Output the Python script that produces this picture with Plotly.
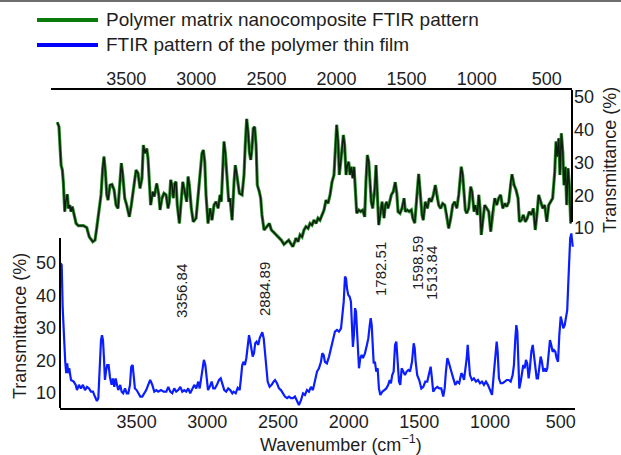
import plotly.graph_objects as go

# ---------------- data ----------------
# Top panel: polymer matrix nanocomposite (read against top axis)
nano_wavenumber = [3992, 3980, 3973, 3965, 3956, 3949, 3939, 3932, 3920, 3913, 3903, 3894, 3885, 3873, 3858, 3842,
                   3806, 3782, 3764, 3739, 3723, 3711, 3692, 3680, 3668, 3659, 3649, 3639, 3630, 3616, 3602, 3587,
                   3573, 3559, 3545, 3535, 3525, 3511, 3497, 3478, 3464, 3450, 3430, 3416, 3402, 3388, 3378, 3366,
                   3354, 3345, 3336, 3326, 3311, 3300, 3283, 3268, 3259, 3245, 3231, 3216, 3202, 3193, 3183, 3174,
                   3164, 3154, 3145, 3136, 3121, 3107, 3097, 3083, 3069, 3059, 3050, 3036, 3022, 3002, 2988, 2974,
                   2960, 2950, 2940, 2931, 2917, 2902, 2888, 2874, 2860, 2845, 2831, 2822, 2812, 2803, 2793, 2783,
                   2769, 2760, 2745, 2731, 2722, 2708, 2693, 2674, 2660, 2651, 2641, 2631, 2622, 2612, 2603, 2594,
                   2584, 2574, 2565, 2551, 2541, 2532, 2517, 2498, 2479, 2465, 2441, 2412, 2394, 2375, 2355, 2341,
                   2327, 2312, 2298, 2289, 2275, 2260, 2246, 2232, 2218, 2203, 2189, 2175, 2161, 2146, 2132, 2118,
                   2103, 2089, 2075, 2061, 2046, 2032, 2018, 2009, 1999, 1989, 1980, 1970, 1961, 1951, 1942, 1932,
                   1923, 1913, 1904, 1894, 1884, 1875, 1866, 1856, 1842, 1827, 1813, 1799, 1790, 1780, 1770, 1761,
                   1752, 1742, 1727, 1718, 1709, 1699, 1685, 1675, 1661, 1652, 1642, 1633, 1623, 1609, 1595, 1581,
                   1570, 1561, 1547, 1533, 1518, 1509, 1495, 1481, 1466, 1456, 1442, 1433, 1424, 1414, 1409, 1399,
                   1390, 1381, 1367, 1352, 1338, 1324, 1309, 1295, 1286, 1271, 1257, 1243, 1228, 1214, 1200, 1185,
                   1171, 1157, 1142, 1128, 1119, 1110, 1100, 1090, 1081, 1071, 1057, 1043, 1033, 1019, 1010, 995,
                   985, 976, 967, 957, 943, 928, 914, 900, 886, 871, 857, 843, 829, 814, 800, 786,
                   771, 757, 748, 733, 719, 705, 695, 681, 667, 653, 639, 625, 610, 596, 582, 568,
                   558, 543, 529, 515, 500, 486, 472, 458, 443, 434, 425, 415, 406, 396, 386, 377,
                   367, 358, 348, 339, 329]
nano_transmittance = [42.3, 40.9, 35.3, 29.2, 27.7, 24.1, 15.0, 18.0, 20.3, 16.0, 17.0, 15.0, 16.5, 14.0, 11.4, 10.7,
                      10.7, 10.1, 7.3, 5.8, 6.3, 9.9, 17.0, 20.1, 28.2, 31.8, 27.2, 20.1, 18.5, 23.1, 23.3, 21.6,
                      17.0, 16.0, 24.1, 29.8, 26.2, 19.1, 17.0, 13.4, 17.0, 22.1, 27.7, 26.7, 22.1, 25.2, 35.3, 32.8,
                      34.3, 31.3, 23.1, 17.0, 21.1, 19.6, 23.6, 20.1, 15.5, 19.1, 20.6, 20.1, 16.0, 18.0, 24.7, 23.1,
                      19.1, 23.6, 24.1, 17.0, 11.4, 20.1, 24.1, 21.1, 18.0, 25.7, 23.1, 16.0, 11.9, 13.0, 20.1, 27.2,
                      32.8, 33.8, 30.2, 20.1, 11.4, 16.0, 12.4, 17.0, 18.0, 16.0, 20.1, 18.0, 26.2, 36.4, 32.8, 25.2,
                      18.0, 19.1, 12.4, 24.1, 29.2, 25.2, 20.6, 20.1, 26.2, 35.3, 43.3, 39.4, 33.3, 30.8, 34.3, 40.4,
                      40.9, 35.3, 23.1, 21.1, 19.1, 14.0, 9.4, 10.4, 11.4, 9.4, 8.4, 7.3, 6.3, 5.0, 5.8, 6.3,
                      5.3, 4.3, 5.8, 6.9, 5.8, 7.9, 7.3, 9.4, 10.4, 9.9, 11.4, 10.9, 12.4, 11.4, 13.0, 12.4,
                      14.0, 15.5, 18.5, 17.5, 20.1, 24.1, 26.2, 32.3, 41.5, 36.4, 26.2, 30.2, 34.3, 38.4, 35.3, 26.2,
                      29.2, 30.2, 26.2, 28.7, 25.2, 28.7, 22.1, 14.5, 15.5, 15.0, 15.5, 13.4, 24.1, 32.3, 30.2, 24.1,
                      18.0, 16.0, 22.1, 29.2, 20.1, 10.9, 15.0, 18.0, 13.0, 17.0, 18.0, 16.0, 17.5, 20.1, 21.1, 24.0,
                      20.6, 15.0, 14.5, 16.0, 19.1, 15.0, 15.5, 15.0, 15.5, 13.0, 11.5, 17.0, 22.1, 26.5, 24.1, 18.0,
                      14.0, 12.4, 18.0, 16.0, 19.1, 18.0, 20.1, 23.1, 20.1, 17.0, 16.0, 17.5, 17.0, 14.0, 9.9, 13.0,
                      17.0, 18.0, 16.0, 20.1, 26.2, 28.7, 26.2, 20.1, 15.5, 14.5, 16.0, 22.6, 21.1, 15.0, 17.0, 14.0,
                      20.1, 16.0, 7.9, 11.9, 17.0, 16.0, 15.0, 8.9, 15.0, 19.1, 17.0, 19.1, 20.1, 16.0, 17.5, 16.5,
                      18.0, 24.1, 26.4, 23.1, 21.6, 19.1, 11.9, 12.4, 14.0, 11.9, 13.0, 15.0, 14.0, 16.0, 9.4, 15.0,
                      20.1, 18.0, 16.0, 17.0, 11.9, 17.0, 18.0, 19.1, 27.2, 36.4, 31.8, 37.4, 26.2, 38.9, 33.3, 23.1,
                      28.7, 17.0, 28.2, 23.1, 11.4]

# Bottom panel: polymer thin film
film_wavenumber = [4037, 4030, 4023, 4014, 4005, 3998, 3991, 3984, 3977, 3964, 3945, 3931, 3922, 3908, 3894, 3880,
                   3865, 3851, 3837, 3823, 3809, 3795, 3781, 3771, 3761, 3752, 3745, 3738, 3731, 3724, 3717, 3708,
                   3698, 3689, 3677, 3667, 3658, 3648, 3639, 3630, 3616, 3606, 3595, 3582, 3570, 3559, 3547, 3538,
                   3528, 3521, 3512, 3500, 3488, 3474, 3460, 3446, 3432, 3418, 3404, 3389, 3375, 3361, 3347, 3328,
                   3309, 3290, 3276, 3262, 3248, 3234, 3220, 3206, 3191, 3177, 3163, 3149, 3135, 3121, 3106, 3092,
                   3078, 3064, 3054, 3045, 3033, 3024, 3014, 3004, 2995, 2983, 2969, 2958, 2946, 2932, 2917, 2905,
                   2894, 2880, 2866, 2852, 2838, 2823, 2814, 2799, 2785, 2771, 2762, 2753, 2743, 2734, 2724, 2714,
                   2705, 2698, 2689, 2679, 2670, 2661, 2651, 2639, 2630, 2620, 2611, 2601, 2592, 2583, 2573, 2559,
                   2545, 2531, 2521, 2507, 2493, 2479, 2465, 2451, 2436, 2422, 2408, 2394, 2380, 2366, 2352, 2337,
                   2323, 2309, 2295, 2281, 2267, 2253, 2238, 2224, 2210, 2196, 2187, 2177, 2168, 2154, 2139, 2125,
                   2111, 2097, 2083, 2069, 2054, 2045, 2035, 2026, 2019, 2012, 2003, 1993, 1984, 1977, 1970, 1963,
                   1955, 1948, 1941, 1934, 1927, 1918, 1908, 1899, 1885, 1871, 1861, 1851, 1844, 1837, 1830, 1823,
                   1814, 1805, 1795, 1786, 1776, 1762, 1748, 1734, 1720, 1710, 1701, 1692, 1682, 1672, 1663, 1653,
                   1644, 1635, 1625, 1614, 1602, 1590, 1578, 1566, 1552, 1540, 1533, 1526, 1515, 1501, 1486, 1472,
                   1458, 1444, 1430, 1420, 1411, 1402, 1387, 1373, 1359, 1345, 1331, 1321, 1312, 1302, 1293, 1283,
                   1274, 1260, 1246, 1232, 1218, 1203, 1194, 1184, 1175, 1165, 1158, 1151, 1142, 1128, 1114, 1099,
                   1085, 1071, 1057, 1043, 1029, 1015, 1000, 986, 972, 960, 953, 946, 937, 925, 911, 896,
                   882, 868, 854, 840, 831, 821, 814, 807, 800, 793, 783, 774, 765, 755, 746, 737,
                   727, 718, 708, 698, 689, 680, 670, 661, 651, 642, 633, 623, 614, 604, 595, 585,
                   576, 567, 557, 548, 538, 529, 519, 510, 500, 491, 482, 472, 463, 454, 447, 440,
                   433, 425, 418, 415]
film_transmittance = [49.9, 49.4, 36.1, 25.8, 19.6, 16.1, 19.1, 16.1, 17.6, 14.0, 13.5, 12.5, 10.9, 12.5, 11.4, 12.5,
                      10.9, 11.9, 11.4, 10.4, 10.4, 8.9, 7.5, 8.4, 17.6, 26.3, 27.8, 26.3, 20.7, 14.0, 16.6, 18.6,
                      18.6, 15.0, 12.5, 14.5, 11.9, 14.5, 12.5, 10.9, 12.5, 10.4, 9.9, 11.4, 9.9, 9.9, 12.5, 18.1,
                      18.6, 15.0, 11.4, 10.9, 9.9, 8.9, 8.9, 9.9, 10.9, 12.5, 14.0, 12.5, 10.4, 10.9, 10.4, 10.9,
                      10.4, 10.4, 11.9, 10.4, 9.9, 11.4, 10.4, 10.9, 11.9, 10.4, 10.9, 10.4, 11.4, 9.9, 11.4, 12.5,
                      11.4, 13.5, 11.4, 14.5, 18.6, 20.2, 18.6, 13.5, 10.9, 11.9, 13.5, 11.4, 11.4, 12.5, 14.0, 14.5,
                      12.5, 10.9, 10.4, 11.4, 10.9, 9.9, 10.4, 9.9, 11.6, 10.9, 14.5, 18.6, 19.6, 18.6, 20.7, 23.8,
                      27.8, 26.3, 23.2, 21.2, 22.2, 25.3, 25.8, 24.8, 26.8, 27.8, 28.7, 26.8, 21.7, 17.6, 13.5, 11.9,
                      12.5, 13.5, 14.0, 13.0, 11.4, 10.9, 9.9, 8.9, 8.4, 8.9, 8.4, 8.4, 8.9, 7.8, 6.3, 7.8,
                      9.9, 9.4, 10.9, 10.4, 11.9, 10.9, 13.5, 16.6, 17.6, 19.6, 22.2, 21.7, 19.6, 19.1, 21.2, 23.8,
                      26.3, 28.9, 29.4, 28.9, 29.9, 33.0, 38.1, 45.8, 45.3, 42.2, 40.2, 39.6, 38.1, 30.9, 24.2, 27.8,
                      36.1, 35.0, 27.8, 19.6, 17.6, 20.7, 21.7, 20.7, 22.2, 24.8, 26.8, 30.9, 33.0, 30.9, 24.8, 19.1,
                      19.6, 16.6, 17.6, 11.4, 9.4, 10.4, 10.9, 11.4, 12.5, 14.0, 13.0, 15.5, 16.6, 24.8, 25.8, 20.7,
                      13.5, 12.5, 17.6, 16.6, 15.5, 16.6, 17.1, 16.6, 19.6, 25.3, 23.8, 19.6, 15.5, 14.0, 11.4, 11.9,
                      13.5, 13.5, 16.6, 18.1, 14.5, 10.4, 11.4, 11.9, 11.4, 11.4, 8.9, 11.4, 16.6, 20.7, 19.6, 17.6,
                      16.6, 14.5, 12.5, 13.5, 13.0, 16.1, 15.5, 14.0, 16.6, 20.7, 24.8, 21.7, 15.5, 14.0, 14.5, 13.5,
                      14.0, 13.0, 13.5, 12.5, 13.5, 12.5, 10.9, 9.4, 16.6, 22.7, 25.8, 22.7, 14.5, 13.0, 13.0, 13.5,
                      14.0, 14.0, 13.5, 15.5, 18.6, 26.8, 30.9, 28.9, 18.6, 11.4, 13.5, 16.6, 18.6, 17.6, 20.2, 19.1,
                      14.5, 17.6, 22.7, 24.8, 21.7, 17.6, 14.5, 14.5, 18.6, 21.2, 19.6, 16.6, 17.6, 16.6, 17.6, 22.7,
                      26.3, 24.8, 22.7, 23.2, 22.7, 20.7, 19.6, 27.8, 33.5, 31.9, 29.9, 30.9, 33.0, 35.5, 43.2, 51.4,
                      57.6, 59.1, 56.1, 55.0]

x_tick_values = [3500, 3000, 2500, 2000, 1500, 1000, 500]
y_tick_values = [10, 20, 30, 40, 50]
peak_labels = ["3356.84", "2884.89", "1782.51", "1598.59", "1513.84"]
legend_names = ["Polymer matrix nanocomposite FTIR pattern", "FTIR pattern of the polymer thin film"]

# ---------------- layout helpers ----------------
W, H = 621, 455
def px(xp):
    return xp / W
def py(yp):
    return 1 - yp / H

FONT = "Liberation Sans, Arial, Helvetica, sans-serif"
TXT = "#1e1e1e"
GREEN_EDGE = "#2f8f2f"
GREEN_CORE = "#0c1e0c"
BLUE = "#0a1eff"

fig = go.Figure()
# nanocomposite: green halo + dark core
fig.add_trace(go.Scatter(x=nano_wavenumber, y=nano_transmittance, mode="lines",
                         line=dict(color=GREEN_EDGE, width=3.2), xaxis="x", yaxis="y",
                         name=legend_names[0], showlegend=False, hoverinfo="skip"))
fig.add_trace(go.Scatter(x=nano_wavenumber, y=nano_transmittance, mode="lines",
                         line=dict(color=GREEN_CORE, width=1.5), xaxis="x", yaxis="y",
                         name=legend_names[0], showlegend=False))
fig.add_trace(go.Scatter(x=film_wavenumber, y=film_transmittance, mode="lines",
                         line=dict(color=BLUE, width=2.2), xaxis="x2", yaxis="y2",
                         name=legend_names[1], showlegend=False))

tickfont = dict(family=FONT, size=18, color=TXT)
top_y_range = [2.67, 52.14]
bot_y_range = [5.38, 60.77]

fig.update_layout(
    width=W, height=H, autosize=False,
    margin=dict(l=0, r=0, t=0, b=0),
    paper_bgcolor="white", plot_bgcolor="rgba(0,0,0,0)",
    font=dict(family=FONT, size=18, color=TXT),
    xaxis=dict(domain=[px(51), px(572)], range=[4037, 320], side="top", anchor="y",
               showline=True, linecolor="black", linewidth=2, mirror=False,
               tickvals=x_tick_values, ticks="", showgrid=False, zeroline=False,
               tickfont=tickfont, automargin=False, ticklabelstandoff=-4),
    yaxis=dict(domain=[py(252), py(90)], range=top_y_range, side="right", anchor="x",
               showline=False, tickvals=y_tick_values, ticks="", showgrid=False, zeroline=False,
               tickfont=tickfont, automargin=False, ticklabelstandoff=1),
    xaxis2=dict(domain=[px(60), px(575)], range=[4042, 399], side="bottom", anchor="y2",
                showline=True, linecolor="black", linewidth=2,
                tickvals=x_tick_values, ticks="", showgrid=False, zeroline=False,
                tickfont=tickfont, automargin=False, ticklabelstandoff=-4),
    yaxis2=dict(domain=[py(408), py(228)], range=bot_y_range, side="left", anchor="x2",
                showline=False, tickvals=y_tick_values, ticks="", showgrid=False, zeroline=False,
                tickfont=tickfont, automargin=False, ticklabelstandoff=3),
    showlegend=False,
)

shapes = [
    # right axis line of the top panel (partial)
    dict(type="line", xref="x domain", yref="y", x0=1, x1=1, y0=11.8, y1=top_y_range[1],
         line=dict(color="black", width=2)),
    # left axis line of the bottom panel (partial)
    dict(type="line", xref="x2 domain", yref="y2", x0=0, x1=0, y0=bot_y_range[0], y1=57.7,
         line=dict(color="black", width=2)),
    # thin frame line at the very top
    dict(type="line", xref="paper", yref="paper", x0=0, x1=1, y0=py(1), y1=py(1),
         line=dict(color="#6e6e6e", width=2)),
    # legend swatches
    dict(type="line", xref="paper", yref="paper", x0=px(37), x1=px(98), y0=py(20), y1=py(20),
         line=dict(color="#0a7a0a", width=4)),
    dict(type="line", xref="paper", yref="paper", x0=px(37), x1=px(98), y0=py(45), y1=py(45),
         line=dict(color="#0000ff", width=4)),
]
fig.update_layout(shapes=shapes)

ann = []
# legend texts
ann.append(dict(text=legend_names[0], x=px(104), y=py(20), xref="paper", yref="paper",
                xanchor="left", yanchor="middle", showarrow=False, font=dict(size=19)))
ann.append(dict(text=legend_names[1], x=px(104), y=py(45), xref="paper", yref="paper",
                xanchor="left", yanchor="middle", showarrow=False, font=dict(size=19)))
# axis titles
ann.append(dict(text="Transmittance (%)", x=px(20), y=py(326), xref="paper", yref="paper",
                textangle=-90, xanchor="center", yanchor="middle", showarrow=False, font=dict(size=18)))
ann.append(dict(text="Transmittance (%)", x=px(610), y=py(160), xref="paper", yref="paper",
                textangle=-90, xanchor="center", yanchor="middle", showarrow=False, font=dict(size=18)))
ann.append(dict(text="Wavenumber (cm<sup>−1</sup>)", x=px(341), y=py(443), xref="paper", yref="paper",
                xanchor="center", yanchor="middle", showarrow=False, font=dict(size=18)))
# peak labels
peak_pos = [(181, 291), (264, 289), (380, 269), (417, 263), (431, 273)]
for lab, (lx, ly) in zip(peak_labels, peak_pos):
    ann.append(dict(text=lab, x=px(lx), y=py(ly), xref="paper", yref="paper", textangle=-90,
                    xanchor="center", yanchor="middle", showarrow=False, font=dict(size=15)))
fig.update_layout(annotations=ann)

# remove the default page margin so the figure fills the window exactly
fig.write_html("out.html", config={"displayModeBar": False},
               post_script="document.body.style.margin='0';")
